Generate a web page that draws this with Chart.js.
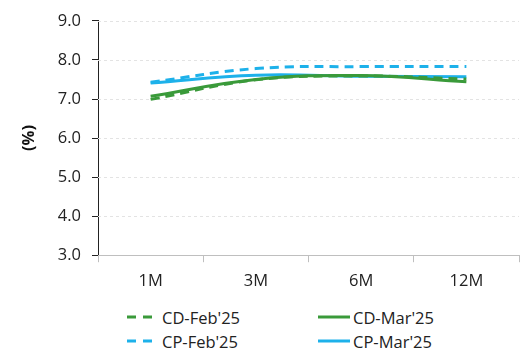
<!DOCTYPE html>
<html>
<head>
<meta charset="utf-8">
<script src="https://cdn.jsdelivr.net/npm/chart.js@4"></script>
<style>
  body { margin: 0; background: #fff; font-family: "Open Sans", sans-serif; }
  #wrap { position: relative; width: 522px; height: 351px; }
  #chart { position: absolute; left: 0; top: 0; }
  #legend { position: absolute; left: 127px; top: 305px; display: grid; grid-template-columns: 191px 191px; row-gap: 0px; }
  .item { display: flex; align-items: center; font-size: 16.5px; color: #222; height: 24px; }
  .item svg { margin-right: 3px; }
</style>
</head>
<body>
<div id="wrap">
  <canvas id="chart" width="522" height="300"></canvas>
  <div id="legend"></div>
</div>
<script>
const labels = ["1M", "3M", "6M", "12M"];
const cdFeb = [6.99, 7.49, 7.59, 7.51];
const cdMar = [7.07, 7.50, 7.60, 7.44];
const cpFeb = [7.43, 7.78, 7.83, 7.83];
const cpMar = [7.41, 7.61, 7.58, 7.57];
const yTicks = [3, 4, 5, 6, 7, 8, 9];

const green = "#3a9a3a";
const blue = "#1db1ea";

const ctx = document.getElementById("chart").getContext("2d");

const line = (label, data, color, dashed) => ({
    label,
    data,
    borderColor: color,
    backgroundColor: color,
    borderWidth: 3,
    borderDash: dashed ? [9, 6] : [],
    pointRadius: 0,
    tension: 0.4,
    fill: false,
});

const chart = new Chart(ctx, {
    type: "line",
    data: {
        labels,
        datasets: [
            line("CD-Feb'25", cdFeb, green, true),
            line("CD-Mar'25", cdMar, green, false),
            line("CP-Feb'25", cpFeb, blue, true),
            line("CP-Mar'25", cpMar, blue, false),
        ],
    },
    options: {
        responsive: false,
        animation: false,
        layout: {
            padding: { top: 8, right: 3, left: 15, bottom: 0 },
        },
        plugins: {
            legend: { display: false },
            tooltip: { enabled: false },
        },
        scales: {
            y: {
                min: 3,
                max: 9,
                afterBuildTicks: (axis) => {
                    axis.ticks = yTicks.map((v) => ({ value: v }));
                },
                border: { color: "#222", width: 1 },
                grid: {
                    drawOnChartArea: false,
                    tickColor: "#222",
                    tickLength: 6,
                },
                ticks: {
                    color: "#222",
                    padding: 11,
                    font: { family: "Open Sans", size: 16.5 },
                    callback: (value) => value.toFixed(1),
                },
                title: {
                    display: true,
                    text: "(%)",
                    color: "#111",
                    font: { family: "Open Sans", size: 16.5, weight: "bold" },
                    padding: { bottom: 8 },
                },
            },
            x: {
                offset: true,
                border: { color: "#bfbfbf", width: 1 },
                grid: {
                    offset: true,
                    drawOnChartArea: false,
                    color: "#bfbfbf",
                    tickLength: 7,
                },
                ticks: {
                    color: "#222",
                    padding: 9,
                    font: { family: "Open Sans", size: 16.5 },
                },
            },
        },
    },
    plugins: [
        {
            // dashed horizontal gridlines like the source
            id: "dashGrid",
            beforeDatasetsDraw(c) {
                const { ctx, chartArea, scales } = c;
                ctx.save();
                ctx.strokeStyle = "#e3e3e3";
                ctx.lineWidth = 1;
                ctx.setLineDash([3, 3]);
                yTicks.slice(1).forEach((v) => {
                    const y = Math.round(scales.y.getPixelForValue(v)) + 0.5;
                    ctx.beginPath();
                    ctx.moveTo(chartArea.left, y);
                    ctx.lineTo(chartArea.right, y);
                    ctx.stroke();
                });
                ctx.restore();
            },
        },
    ],
});

// html legend in two columns
const legend = document.getElementById("legend");
chart.data.datasets.forEach((ds) => {
    const dash = ds.borderDash.length ? 'stroke-dasharray="9 7"' : "";
    legend.insertAdjacentHTML(
        "beforeend",
        `<div class="item"><svg width="32" height="6"><line x1="0" y1="3" x2="${ds.borderDash.length ? 25 : 32}" y2="3" stroke="${ds.borderColor}" stroke-width="3" ${dash}/></svg>${ds.label}</div>`
    );
});
</script>
</body>
</html>
